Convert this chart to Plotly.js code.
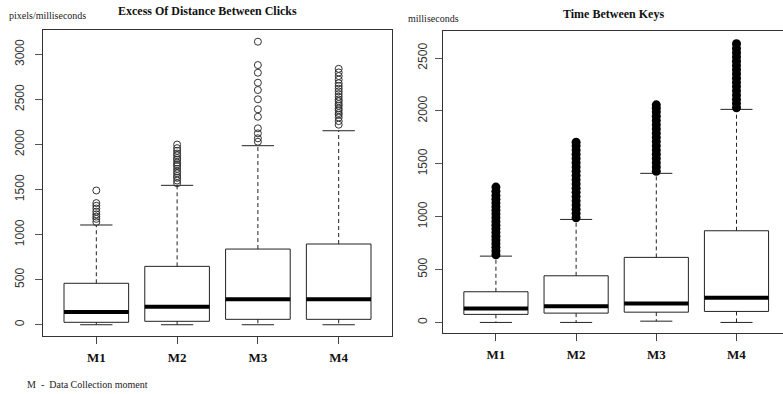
<!DOCTYPE html>
<html>
<head>
<meta charset="utf-8">
<script src="https://cdn.plot.ly/plotly-3.0.1.min.js"></script>
<style>html,body{margin:0;padding:0;background:#fff;}#chart{width:783px;height:394px;}</style>
</head>
<body>
<div id="chart"></div>
<script>
// ---- Data ----
const categories = ['M1', 'M2', 'M3', 'M4'];
const yTicksClicks = [0, 500, 1000, 1500, 2000, 2500, 3000];
const yTicksKeys = [0, 500, 1000, 1500, 2000, 2500];

// Excess Of Distance Between Clicks (pixels/milliseconds)
const clickQ1 = [27, 38, 60, 60];
const clickMedian = [141, 200, 282, 282];
const clickQ3 = [460, 648, 840, 896];
const clickLower = [0, 0, 0, 0];
const clickUpper = [1107, 1547, 1987, 2153];
const clickOutM1 = [1140, 1175, 1200, 1225, 1255, 1290, 1320, 1350, 1490];
const clickOutM2 = [1570, 1600, 1630, 1650, 1680, 1700, 1730, 1760, 1780, 1800, 1830, 1850, 1880, 1900, 1930, 1960, 2000];
const clickOutM3 = [2031, 2069, 2124, 2180, 2308, 2391, 2502, 2605, 2686, 2797, 2882, 3141];
const clickOutM4 = [2220, 2260, 2300, 2330, 2350, 2380, 2400, 2430, 2450, 2480, 2500, 2530, 2560, 2590, 2620, 2650, 2680, 2720, 2760, 2800, 2840];

// Time Between Keys (milliseconds)
const keysQ1 = [76, 88, 97, 104];
const keysMedian = [132, 154, 180, 233];
const keysQ3 = [290, 441, 615, 867];
const keysLower = [0, 0, 12, 0];
const keysUpper = [627, 974, 1410, 2015];
const keysOutM1 = [640, 675, 710, 745, 780, 815, 850, 885, 920, 955, 990, 1025, 1060, 1095, 1130, 1165, 1200, 1240, 1280];
const keysOutM2 = [990, 1030, 1070, 1110, 1150, 1190, 1230, 1270, 1310, 1350, 1390, 1430, 1470, 1510, 1550, 1590, 1630, 1670, 1705];
const keysOutM3 = [1430, 1470, 1510, 1550, 1590, 1630, 1670, 1710, 1750, 1790, 1830, 1870, 1910, 1950, 1990, 2025, 2058];
const keysOutM4 = [2030, 2070, 2110, 2150, 2190, 2230, 2270, 2310, 2350, 2390, 2430, 2470, 2510, 2550, 2590, 2635];

// ---- Build traces ----
const pos = categories.map((c, i) => i + 1);
const BOXW = 0.8, CAPW = 0.4;
const LINE = '#222';

function panel(q1, med, q3, lo, hi, outs, xa, ya, outMarker) {
  const traces = [];
  traces.push({
    type: 'box', x: pos, q1: q1, median: med, q3: q3,
    lowerfence: q1, upperfence: q3, width: BOXW, whiskerwidth: 0,
    fillcolor: 'white', line: {color: LINE, width: 1}, boxpoints: false,
    xaxis: xa, yaxis: ya, hoverinfo: 'skip', showlegend: false
  });
  const wx = [], wy = [], cx = [], cy = [], mx = [], my = [];
  pos.forEach((p, i) => {
    wx.push(p, p, null, p, p, null);
    wy.push(q3[i], hi[i], null, q1[i], lo[i], null);
    cx.push(p - CAPW / 2, p + CAPW / 2, null, p - CAPW / 2, p + CAPW / 2, null);
    cy.push(hi[i], hi[i], null, lo[i], lo[i], null);
    mx.push(p - BOXW / 2, p + BOXW / 2, null);
    my.push(med[i], med[i], null);
  });
  traces.push({type: 'scatter', mode: 'lines', x: wx, y: wy, xaxis: xa, yaxis: ya,
    line: {color: LINE, width: 1, dash: '4px,3px'}, hoverinfo: 'skip', showlegend: false});
  traces.push({type: 'scatter', mode: 'lines', x: cx, y: cy, xaxis: xa, yaxis: ya,
    line: {color: LINE, width: 1}, hoverinfo: 'skip', showlegend: false});
  traces.push({type: 'scatter', mode: 'lines', x: mx, y: my, xaxis: xa, yaxis: ya,
    line: {color: '#000', width: 4}, hoverinfo: 'skip', showlegend: false});
  const ox = [], oy = [];
  outs.forEach((arr, i) => arr.forEach(v => { ox.push(pos[i]); oy.push(v); }));
  traces.push({type: 'scatter', mode: 'markers', x: ox, y: oy, xaxis: xa, yaxis: ya,
    marker: outMarker, hoverinfo: 'skip', showlegend: false});
  return traces;
}

const data = [].concat(
  panel(clickQ1, clickMedian, clickQ3, clickLower, clickUpper,
        [clickOutM1, clickOutM2, clickOutM3, clickOutM4], 'x', 'y',
        {symbol: 'circle-open', size: 7, color: '#333', line: {width: 1, color: '#333'}}),
  panel(keysQ1, keysMedian, keysQ3, keysLower, keysUpper,
        [keysOutM1, keysOutM2, keysOutM3, keysOutM4], 'x2', 'y2',
        {symbol: 'circle', size: 9, color: '#000', line: {width: 0}})
);

const W = 783, H = 394;
const px = v => v / W, py = v => 1 - v / H;
const serif = 'Liberation Serif, Times New Roman, serif';
const sans = 'Liberation Sans, Arial, sans-serif';

const xCommon = {
  tickmode: 'array', tickvals: pos, ticktext: categories,
  ticks: 'outside', ticklen: 7, tickwidth: 1, tickcolor: '#444',
  showline: true, linecolor: '#333', linewidth: 1,
  showgrid: false, zeroline: false, fixedrange: true,
  tickfont: {family: serif, size: 13, color: '#111', weight: 700},
  ticklabelstandoff: 2
};
const yCommon = {
  ticks: 'outside', ticklen: 7, tickwidth: 1, tickcolor: '#555',
  showline: true, linecolor: '#333', linewidth: 1,
  showgrid: false, zeroline: false, fixedrange: true, tickangle: -90,
  tickfont: {family: sans, size: 12, color: '#333'}, tickmode: 'array'
};

const layout = {
  width: W, height: H,
  margin: {l: 0, r: 0, t: 0, b: 0, autoexpand: false},
  paper_bgcolor: '#fff', plot_bgcolor: '#fff',
  showlegend: false,
  xaxis: Object.assign({}, xCommon, {domain: [px(43), px(392)], range: [0.34, 4.66], mirror: true, anchor: 'y'}),
  yaxis: Object.assign({}, yCommon, {domain: [py(336), py(30)], range: [-125, 3271], mirror: true, anchor: 'x',
    tickvals: yTicksClicks, ticktext: yTicksClicks.map(String), ticklabelstandoff: 6}),
  xaxis2: Object.assign({}, xCommon, {domain: [px(443), 1], range: [0.34, 4.58], mirror: true, anchor: 'y2'}),
  yaxis2: Object.assign({}, yCommon, {domain: [py(333), py(31)], range: [-100, 2756], mirror: false, anchor: 'x2',
    tickvals: yTicksKeys, ticktext: yTicksKeys.map(String), ticklabelstandoff: 3}),
  annotations: [
    {text: 'Excess Of Distance Between Clicks', xref: 'paper', yref: 'paper', x: px(207), y: py(11),
     xanchor: 'center', yanchor: 'middle', showarrow: false, font: {family: serif, size: 12, color: '#111', weight: 700}},
    {text: 'Time Between Keys', xref: 'paper', yref: 'paper', x: px(613), y: py(14),
     xanchor: 'center', yanchor: 'middle', showarrow: false, font: {family: serif, size: 12, color: '#111', weight: 700}},
    {text: 'pixels/milliseconds', xref: 'paper', yref: 'paper', x: px(7), y: py(15),
     xanchor: 'left', yanchor: 'middle', showarrow: false, font: {family: serif, size: 10, color: '#222'}},
    {text: 'milliseconds', xref: 'paper', yref: 'paper', x: px(406), y: py(19),
     xanchor: 'left', yanchor: 'middle', showarrow: false, font: {family: serif, size: 10, color: '#222'}},
    {text: 'M  -  Data Collection moment', xref: 'paper', yref: 'paper', x: px(25), y: py(384),
     xanchor: 'left', yanchor: 'middle', showarrow: false, font: {family: serif, size: 10, color: '#222'}}
  ]
};

Plotly.newPlot('chart', data, layout, {staticPlot: true, displayModeBar: false});
</script>
</body>
</html>
